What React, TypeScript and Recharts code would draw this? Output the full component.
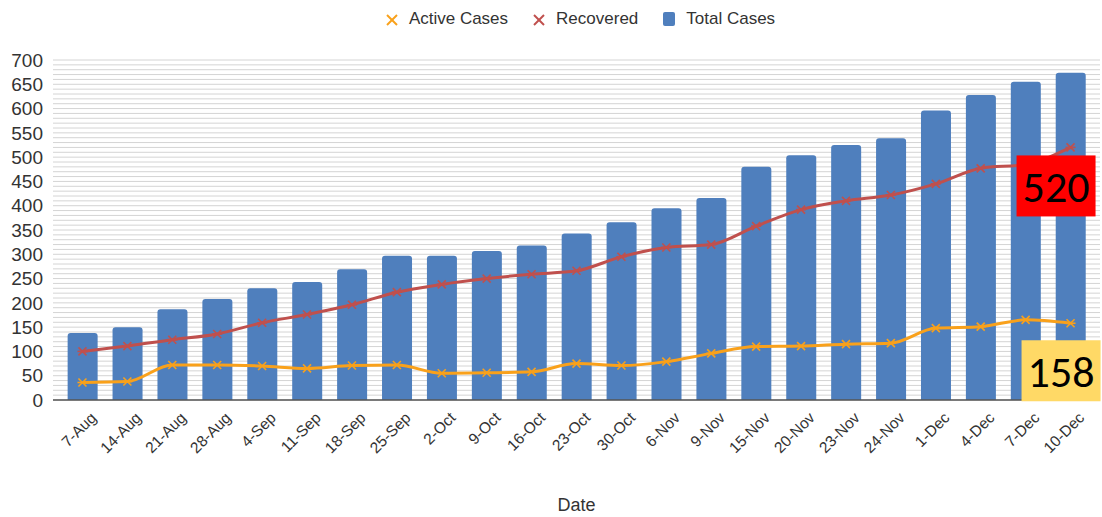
import {
  ComposedChart,
  Bar,
  Line,
  XAxis,
  YAxis,
  CartesianGrid,
  Legend,
  LabelList,
} from "recharts";

const dates = [
  "7-Aug", "14-Aug", "21-Aug", "28-Aug", "4-Sep", "11-Sep", "18-Sep", "25-Sep",
  "2-Oct", "9-Oct", "16-Oct", "23-Oct", "30-Oct", "6-Nov", "9-Nov", "15-Nov",
  "20-Nov", "23-Nov", "24-Nov", "1-Dec", "4-Dec", "7-Dec", "10-Dec",
];

const totalCases = [
  138, 150, 187, 208, 230, 243, 269, 297, 297, 307, 318, 343, 366, 395, 416,
  480, 504, 525, 539, 596, 628, 655, 674,
];

const recovered = [
  100, 111, 124, 136, 159, 176, 196, 222, 238, 250, 259, 266, 295, 314, 320,
  358, 392, 410, 422, 445, 477, 485, 520,
];

const activeCases = [
  36, 38, 72, 72, 70, 65, 71, 72, 55, 56, 58, 75, 71, 79, 96, 110, 111, 115,
  117, 148, 151, 165, 158,
];

const yTicks = [0, 50, 100, 150, 200, 250, 300, 350, 400, 450, 500, 550, 600, 650, 700];
// thin grid lines every 10
const gridLines = Array.from({ length: 71 }, (_, i) => i * 10);

const data = dates.map((d, i) => ({
  date: d,
  total: totalCases[i],
  recovered: recovered[i],
  active: activeCases[i],
}));

const BLUE = "#4F7FBD";
const RED = "#C0504D";
const ORANGE = "#F9A11B";
const FONT = "'Liberation Sans', Arial, sans-serif";

const StarDot = (props: any) => {
  const { cx, cy, stroke } = props;
  if (cx == null || cy == null) return null;
  return (
    <g stroke={stroke} strokeWidth={1.6}>
      <line x1={cx - 4} y1={cy - 4} x2={cx + 4} y2={cy + 4} />
      <line x1={cx - 4} y1={cy + 4} x2={cx + 4} y2={cy - 4} />
      <line x1={cx - 5} y1={cy} x2={cx + 5} y2={cy} />
    </g>
  );
};

const makeBoxLabel = (fill: string, dx: number, dy: number) => (props: any) => {
  const { x, y, index, value } = props;
  if (index !== data.length - 1) return null;
  return (
    <g>
      <rect x={x + dx} y={y + dy} width={79} height={61} fill={fill} />
      <text
        x={x + dx + 39.5}
        y={y + dy + 47}
        textAnchor="middle"
        fontSize={44}
        fontFamily="'Carlito', 'Open Sans', sans-serif"
        fill="#000"
      >
        {value}
      </text>
    </g>
  );
};

const LegendContent = (props: any) => {
  const { payload } = props;
  return (
    <div
      style={{
        display: "flex",
        justifyContent: "center",
        gap: 24,
        fontFamily: FONT,
        fontSize: 17,
        color: "#333",
        paddingLeft: 60,
      }}
    >
      {payload.map((p: any) => (
        <div key={p.value} style={{ display: "flex", alignItems: "center", gap: 10 }}>
          <svg width={14} height={14}>
            {p.value === "Total Cases" ? (
              <rect x={1} y={0} width={12} height={14} rx={2} fill={BLUE} />
            ) : (
              <g stroke={p.color} strokeWidth={2}>
                <line x1={2} y1={3} x2={12} y2={13} />
                <line x1={2} y1={13} x2={12} y2={3} />
              </g>
            )}
          </svg>
          <span>{p.value}</span>
        </div>
      ))}
    </div>
  );
};

export default function App() {
  return (
    <div style={{ position: "absolute", left: 0, top: 0, background: "#fff" }}>
      <ComposedChart
        width={1102}
        height={517}
        data={data}
        margin={{ top: 32, right: 2, bottom: 0, left: 0 }}
        barCategoryGap="17%"
      >
        <Legend verticalAlign="top" height={28} content={LegendContent} wrapperStyle={{ top: 9 }} />
        <CartesianGrid
          vertical={false}
          horizontalValues={gridLines}
          stroke="#d4d4d4"
          strokeWidth={1}
        />
        <XAxis
          dataKey="date"
          interval={0}
          height={117}
          angle={-45}
          textAnchor="end"
          padding={{ left: 7, right: 7 }}
          tickLine={false}
          axisLine={{ stroke: "#555", strokeWidth: 1.5 }}
          tick={{ fontSize: 15.5, fill: "#333", fontFamily: FONT, dy: 3, dx: 7 }}
          label={{
            value: "Date",
            position: "insideBottom",
            offset: 6,
            style: { fontSize: 18, fill: "#333", fontFamily: FONT },
          }}
        />
        <YAxis
          domain={[0, 700]}
          ticks={yTicks}
          interval={0}
          width={53}
          tickSize={0}
          tickMargin={10}
          axisLine={false}
          tickLine={false}
          tick={{ fontSize: 19, fill: "#333", fontFamily: FONT }}
        />
        <Bar
          dataKey="total"
          name="Total Cases"
          fill={BLUE}
          radius={[3, 3, 0, 0]}
          isAnimationActive={false}
        />
        <Line
          dataKey="recovered"
          name="Recovered"
          type="monotone"
          stroke={RED}
          strokeWidth={3}
          dot={<StarDot />}
          activeDot={false}
          isAnimationActive={false}
        >
          <LabelList dataKey="recovered" content={makeBoxLabel("#FF0000", -54, 8)} />
        </Line>
        <Line
          dataKey="active"
          name="Active Cases"
          type="monotone"
          stroke={ORANGE}
          strokeWidth={3}
          dot={<StarDot />}
          activeDot={false}
          isAnimationActive={false}
        >
          <LabelList dataKey="active" content={makeBoxLabel("#FFD966", -49, 17)} />
        </Line>
      </ComposedChart>
    </div>
  );
}
